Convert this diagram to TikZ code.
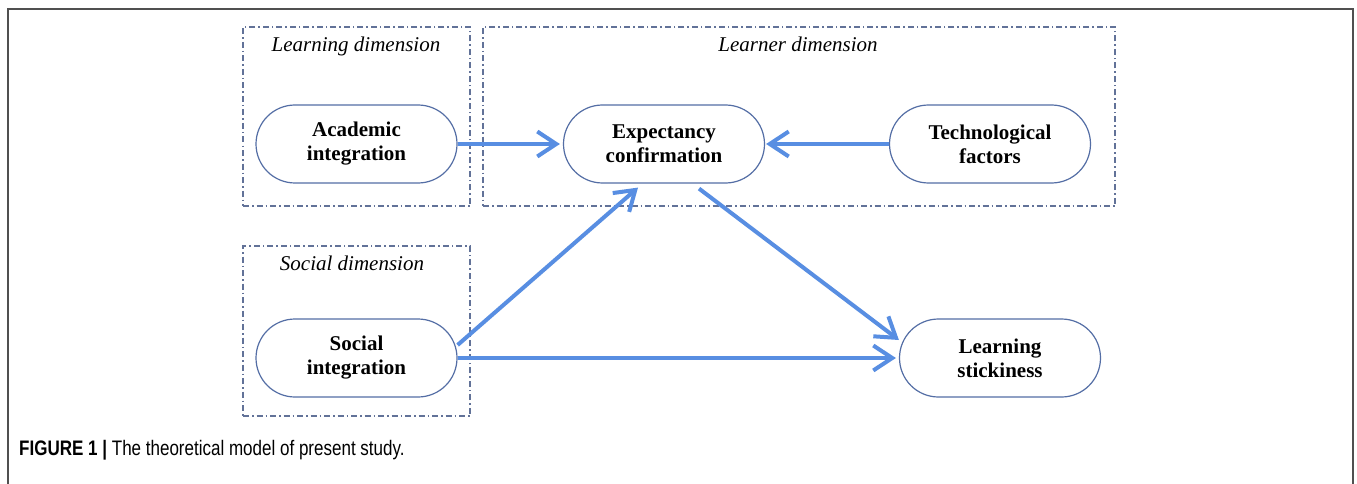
\documentclass[tikz,border=0pt]{standalone}
\usepackage{fontspec}
\setmainfont{Liberation Serif}
\newfontfamily\capfont[FakeStretch=0.81]{Liberation Sans}
\usetikzlibrary{arrows.meta}
\definecolor{arrowblue}{RGB}{88,142,226}
\definecolor{nodeedge}{RGB}{84,110,165}
\definecolor{boxedge}{RGB}{98,114,152}
\definecolor{framegray}{RGB}{80,80,80}
\begin{document}
\begin{tikzpicture}[x=1pt,y=-1pt,
  concept/.style={draw=nodeedge, line width=1.2pt, rounded corners=39pt,
    minimum width=201pt, minimum height=78pt, align=center, inner sep=0pt,
    font=\fontsize{21}{24}\selectfont\bfseries},
  dimbox/.style={draw=boxedge, line width=1.05pt, inner sep=0pt,
    dash pattern=on 6pt off 3pt on 1.5pt off 3pt},
  dimlabel/.style={font=\fontsize{21}{24}\selectfont\itshape, anchor=base, inner sep=0pt},
  link/.style={draw=arrowblue, line width=4pt, -{Straight Barb[length=19pt,width=25pt]}},
]
\useasboundingbox (0,0) rectangle (1357,484);
\fill[white] (0,0) rectangle (1357,484);
% outer frame
\draw[framegray, line width=1.5pt] (8,500) -- (8,9) -- (1353,9) -- (1353,500);

% dimension boxes
\node[dimbox, minimum width=227pt, minimum height=179pt] (learningbox) at (356.5,116.5) {};
\node[dimbox, minimum width=632pt, minimum height=179pt] (learnerbox) at (799,116.5) {};
\node[dimbox, minimum width=227pt, minimum height=170pt] (socialbox) at (356.5,331) {};

\node[dimlabel] (learninglabel) at (356,52) {Learning dimension};
\node[dimlabel] (learnerlabel) at (798,52) {Learner dimension};
\node[dimlabel] (sociallabel) at (352,270) {Social dimension};

% concept nodes
\node[concept] (acad) at (356.5,144) {Academic\\integration};
\node[concept] (exp) at (664,144) {Expectancy\\confirmation};
\node[concept] (tech) at (990,144) {Technological\\factors};
\node[concept] (soc) at (356.5,358) {Social\\integration};
\node[concept] (stick) at (1000,358) {Learning\\stickiness};

% connectors
\draw[link, shorten >=3pt] (acad.east) -- (exp.west);
\draw[link, shorten >=1pt] (tech.west) -- (exp.east);
\draw[link] ([yshift=13pt]soc.east) -- ([xshift=-26pt,yshift=-4pt]exp.south);
\draw[link] ([xshift=35pt,yshift=-5pt]exp.south) -- ([yshift=18pt]stick.west);
\draw[link, shorten >=3pt] (soc.east) -- (stick.west);

% caption
\node[anchor=base west, inner sep=0pt, font=\capfont\fontsize{21}{24}\selectfont] (caption) at (19,455)
  {\textbf{FIGURE 1 |} The theoretical model of present study.};
\end{tikzpicture}
\end{document}
